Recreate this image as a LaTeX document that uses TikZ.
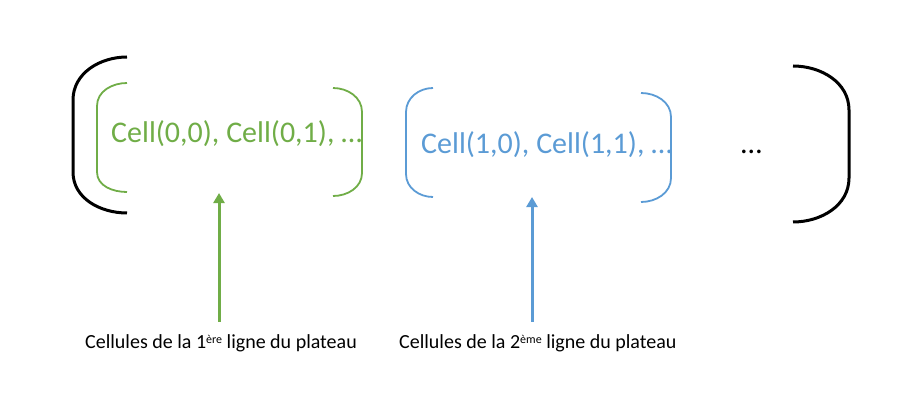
\documentclass[tikz,border=0pt]{standalone}
\usepackage{fontspec}
\setmainfont{Carlito}
\usetikzlibrary{arrows.meta, positioning}

\definecolor{rowgreen}{HTML}{70AD47}
\definecolor{rowblue}{HTML}{5B9BD5}

\begin{document}
\begin{tikzpicture}[
    x=1pt, y=-1pt,
    every node/.style={inner sep=0pt, anchor=base west},
    celltext/.style={font=\fontsize{30}{36}\selectfont},
    labeltext/.style={font=\fontsize{20}{24}\selectfont},
    outerbracket/.style={draw=black, line width=3pt},
    greenbracket/.style={draw=rowgreen, line width=1.8pt},
    bluebracket/.style={draw=rowblue, line width=1.8pt},
    rowarrow/.style={line width=3pt, -{Triangle[length=10pt, width=11pt]}, shorten <=12pt}
]
    \useasboundingbox (0,0) rectangle (912,406);

    % Outer brackets
    \draw[outerbracket] (127,57) to[out=180,in=90] (73,100) -- (73,172) to[out=-90,in=180] (127,213);
    \draw[outerbracket] (793,66) to[out=0,in=90] (849,110) -- (849,178) to[out=-90,in=0] (793,222);

    % First row
    \draw[greenbracket] (127,83) to[out=180,in=90] (97,106) -- (97,172) to[out=-90,in=180] (127,192);
    \draw[greenbracket] (333,88) to[out=0,in=90] (362,112) -- (362,173) to[out=-90,in=0] (333,196);
    \node[celltext, text=rowgreen] (row0) at (111,143) {Cell(0,0), Cell(0,1), …};

    % Second row
    \draw[bluebracket] (433,88) to[out=180,in=90] (406,112) -- (406,174) to[out=-90,in=180] (433,197);
    \draw[bluebracket] (641,93) to[out=0,in=90] (671,117) -- (671,178) to[out=-90,in=0] (641,202);
    \node[celltext, text=rowblue] (row1) at (421,154) {Cell(1,0), Cell(1,1), …};

    % Other rows
    \node[celltext] (more) at (741,154) {…};

    % Labels
    \node[labeltext] (lab0) at (85,348) {Cellules de la 1\raisebox{5pt}{\fontsize{12}{14}\selectfont ère} ligne du plateau};
    \node[labeltext] (lab1) at (399,348) {Cellules de la 2\raisebox{5pt}{\fontsize{12}{14}\selectfont ème} ligne du plateau};

    % Arrows
    \coordinate (tip0) at (219,193);
    \coordinate (tip1) at (532,197);
    \draw[rowarrow, rowgreen] (lab0.north -| tip0) -- (tip0);
    \draw[rowarrow, rowblue] (lab1.north -| tip1) -- (tip1);

\end{tikzpicture}
\end{document}
